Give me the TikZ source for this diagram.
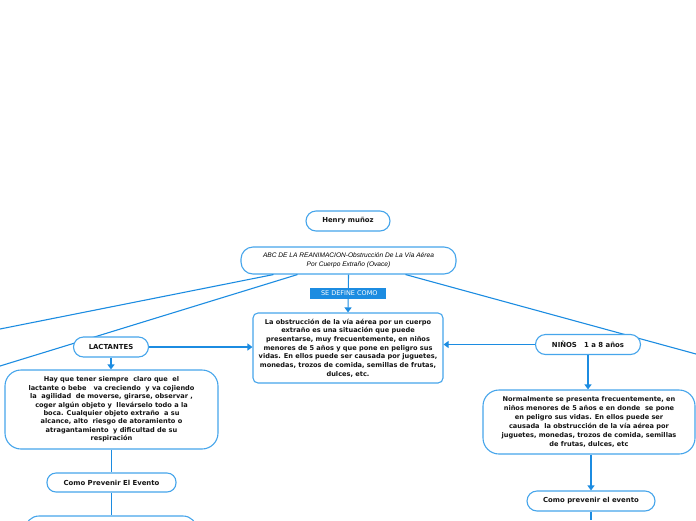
\documentclass[tikz,border=0pt]{standalone}
\usepackage{fontspec}
\setmainfont{DejaVu Sans}
\newfontfamily\abcfont{Liberation Sans}
\usetikzlibrary{arrows.meta,calc}
\definecolor{lineblue}{RGB}{28,140,225}
\definecolor{boxblue}{RGB}{70,165,235}
\definecolor{txt}{RGB}{20,20,20}
\begin{document}
\begin{tikzpicture}[x=1pt,y=-1pt,
  box/.style={draw=boxblue,line width=1.1pt,fill=white,align=center,text=txt,inner sep=0pt,font=\bfseries\fontsize{6.6}{8.7}\selectfont},
  lbl/.style={box,font=\bfseries\fontsize{6.9}{8}\selectfont},
  conn/.style={draw=lineblue,line width=1.1pt},
  arr/.style={conn,-{Triangle[length=5pt,width=7pt]}}]
\useasboundingbox (0,0) rectangle (696,520);
\clip (0,0) rectangle (696,520);
% connectors to off-picture nodes
\coordinate (offL1) at (0,329);
\coordinate (offL2) at (0,366);
\coordinate (offR) at (696,354);
% nodes
\node[lbl,rounded corners=10pt,minimum width=84pt,minimum height=20pt] (henry) at (348,221) {Henry muñoz};
\node[box,rounded corners=12pt,minimum width=215pt,minimum height=27pt,text=black,font=\abcfont\itshape\fontsize{6.6}{9}\selectfont] (abc) at (348.5,260.5) {ABC DE LA REANIMACION-Obstrucción De La Vía Aérea\\Por Cuerpo Extraño (Ovace)};
\draw[conn] ([xshift=-75pt]abc.south) -- (offL1);
\draw[conn] ([xshift=-51pt]abc.south) -- (offL2);
\draw[conn] ([xshift=57pt]abc.south) -- (offR);
\node[box,rounded corners=5pt,minimum width=190pt,minimum height=70pt] (main) at (348,348) {La obstrucción de la vía aérea por un cuerpo\\extraño es una situación que puede\\presentarse, muy frecuentemente, en niños\\menores de 5 años y que pone en peligro sus\\vidas. En ellos puede ser causada por juguetes,\\monedas, trozos de comida, semillas de frutas,\\dulces, etc.};
\draw[arr] (abc.south) -- node[fill=lineblue,text=white,font=\fontsize{6.5}{7}\selectfont,minimum width=76pt,minimum height=11pt,inner sep=0pt] (define) {\ SE DEFINE COMO} (main.north);
\node[lbl,rounded corners=10pt,minimum width=75pt,minimum height=20pt] (lact) at (111,347) {LACTANTES};
\node[box,rounded corners=16pt,minimum width=213pt,minimum height=79pt,font=\bfseries\fontsize{6.6}{8.4}\selectfont] (hay) at (111.5,409.5) {Hay que tener siempre\ \ claro que\ \ el\\lactante o bebe\ \ \ va creciendo\ \ y va cojiendo\\la\ \ agilidad\ \ de moverse, girarse, observar ,\\coger algún objeto y\ \ llevárselo todo a la\\boca. Cualquier objeto extraño\ \ a su\\alcance, alto\ \ riesgo de atoramiento o\\atragantamiento\ \ y dificultad de su\\respiración};
\node[lbl,rounded corners=9pt,minimum width=129pt,minimum height=19pt] (prevL) at (111.5,482.5) {Como Prevenir El Evento};
\node[box,rounded corners=14pt,minimum width=172pt,minimum height=50pt] (nextL) at (111,541) {};
\node[lbl,rounded corners=10pt,minimum width=105pt,minimum height=20pt] (ninos) at (588,344.5) {NIÑOS\ \ \ 1 a 8 años};
\node[box,rounded corners=16pt,minimum width=212pt,minimum height=64pt,font=\bfseries\fontsize{6.6}{8.9}\selectfont] (normal) at (589,422) {Normalmente se presenta frecuentemente, en\\niños menores de 5 años e en donde\ \ se pone\\en peligro sus vidas. En ellos puede ser\\causada\ \ la obstrucción de la vía aérea por\\juguetes, monedas, trozos de comida, semillas\\de frutas, dulces, etc};
\node[lbl,rounded corners=10pt,minimum width=128pt,minimum height=20pt] (prevR) at (591,501) {Como prevenir el evento};
\coordinate (offB) at (591,520);
% connectors
\draw[arr] (lact.east) -- (main.west |- lact.east);
\draw[arr] (ninos.west) -- (main.east |- ninos.west);
\draw[arr] (lact.south) -- (hay.north -| lact.south);
\draw[conn] (hay.south -| prevL.north) -- (prevL.north);
\draw[conn] (prevL.south) -- (nextL.north -| prevL.south);
\draw[arr] (ninos.south) -- (normal.north -| ninos.south);
\draw[arr] (normal.south -| prevR.north) -- (prevR.north);
\draw[conn] (prevR.south) -- (offB);
\end{tikzpicture}
\end{document}
